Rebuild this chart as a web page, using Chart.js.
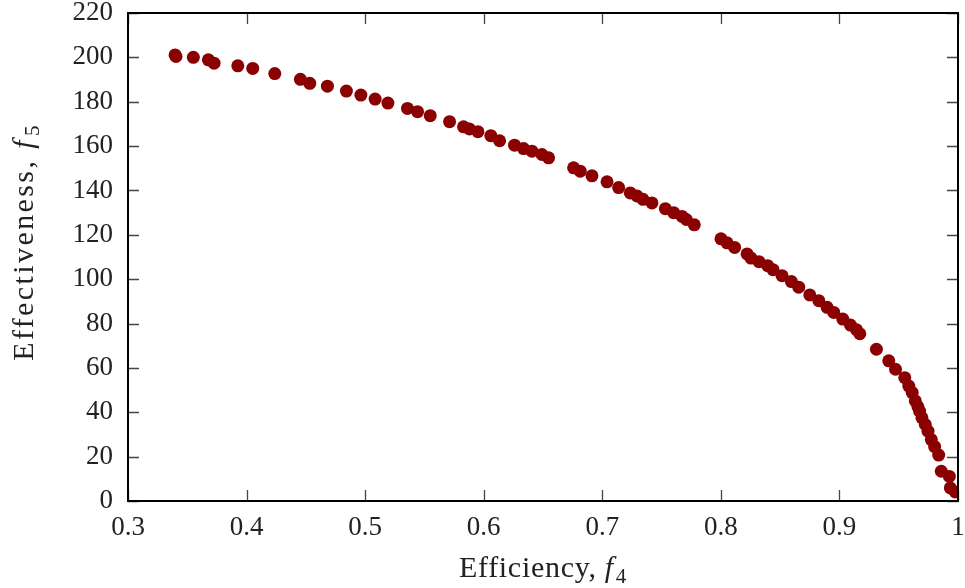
<!DOCTYPE html>
<html>
<head>
<meta charset="utf-8">
<script src="https://cdn.jsdelivr.net/npm/chart.js@4"></script>
<style>
  html, body { margin: 0; padding: 0; background: #fff; }
  #wrap { width: 965px; height: 588px; }
</style>
</head>
<body>
<div id="wrap"><canvas id="plot" width="965" height="588"></canvas></div>
<script>
  // Pareto front: efficiency f4 vs effectiveness f5
  const efficiency = [
    0.3397, 0.3405, 0.3551, 0.3678, 0.3726, 0.3926, 0.4052, 0.4238, 0.4454, 0.4533,
    0.4682, 0.4842, 0.4964, 0.5084, 0.5192, 0.5357, 0.5442, 0.5549, 0.5712, 0.5830,
    0.5880, 0.5951, 0.6060, 0.6134, 0.6260, 0.6336, 0.6407, 0.6491, 0.6547, 0.6758,
    0.6814, 0.6913, 0.7040, 0.7138, 0.7236, 0.7293, 0.7343, 0.7419, 0.7532, 0.7602,
    0.7673, 0.7709, 0.7776, 0.8001, 0.8052, 0.8116, 0.8221, 0.8254, 0.8322, 0.8395,
    0.8440, 0.8516, 0.8595, 0.8657, 0.8750, 0.8826, 0.8896, 0.8952, 0.9028, 0.9093,
    0.9144, 0.9172, 0.9312, 0.9416, 0.9473, 0.9551, 0.9585, 0.9614, 0.9640, 0.9662,
    0.9676, 0.9696, 0.9724, 0.9747, 0.9775, 0.9803, 0.9837, 0.9859, 0.9927, 0.9935,
    0.9977
  ];
  const effectiveness = [
    201.1, 200.4, 200.0, 198.9, 197.4, 196.2, 195.0, 192.7, 190.1, 188.3,
    187.0, 184.8, 183.0, 181.2, 179.4, 177.0, 175.5, 173.7, 171.0, 168.7,
    167.7, 166.5, 164.7, 162.4, 160.4, 158.9, 157.7, 156.2, 154.7, 150.2,
    148.7, 146.6, 143.9, 141.3, 138.9, 137.5, 136.0, 134.4, 131.8, 130.0,
    128.3, 126.9, 124.5, 118.2, 116.4, 114.3, 111.4, 109.5, 107.9, 106.1,
    104.3, 101.6, 98.9, 96.4, 92.9, 90.3, 87.3, 85.0, 82.0, 79.3,
    77.2, 75.4, 68.4, 63.2, 59.4, 55.6, 51.8, 48.9, 45.1, 42.5,
    40.5, 37.5, 34.5, 31.5, 27.7, 24.5, 20.7, 13.4, 11.1, 5.9,
    4.1
  ];

  const xTicks = [0.3, 0.4, 0.5, 0.6, 0.7, 0.8, 0.9, 1.0];
  const yTicks = [0, 20, 40, 60, 80, 100, 120, 140, 160, 180, 200, 220];

  const SERIF = '"Liberation Serif", "DejaVu Serif", serif';
  const TICK_LEN = 11;

  // frame + inward mirrored tick marks + axis titles with subscripts
  const framePlugin = {
    id: 'frame',
    afterDraw(chart) {
      const { ctx, chartArea: a, scales } = chart;
      ctx.save();

      ctx.strokeStyle = '#444';
      ctx.lineWidth = 1.3;
      ctx.beginPath();
      xTicks.forEach((v) => {
        const px = Math.round(scales.x.getPixelForValue(v)) + 0.5;
        ctx.moveTo(px, a.bottom); ctx.lineTo(px, a.bottom - TICK_LEN);
        ctx.moveTo(px, a.top); ctx.lineTo(px, a.top + TICK_LEN);
      });
      yTicks.forEach((v) => {
        const py = Math.round(scales.y.getPixelForValue(v)) + 0.5;
        ctx.moveTo(a.left, py); ctx.lineTo(a.left + TICK_LEN, py);
        ctx.moveTo(a.right, py); ctx.lineTo(a.right - TICK_LEN, py);
      });
      ctx.stroke();

      ctx.strokeStyle = '#000';
      ctx.lineWidth = 2;
      ctx.strokeRect(a.left, a.top, a.right - a.left, a.bottom - a.top);

      ctx.fillStyle = '#222';
      ctx.textBaseline = 'alphabetic';

      function label(text, sym, sub, cx, cy, spacing) {
        ctx.letterSpacing = spacing + 'px';
        const main = '30px ' + SERIF;
        const ital = 'italic 30px ' + SERIF;
        const small = '21px ' + SERIF;
        ctx.font = main; const w1 = ctx.measureText(text).width;
        ctx.font = ital; const w2 = ctx.measureText(sym).width;
        ctx.font = small; const w3 = ctx.measureText(sub).width;
        let x = cx - (w1 + w2 + w3 + 2) / 2;
        ctx.font = main; ctx.fillText(text, x, cy); x += w1;
        ctx.font = ital; ctx.fillText(sym, x, cy); x += w2 + 2;
        ctx.font = small; ctx.fillText(sub, x, cy + 6);
        ctx.letterSpacing = '0px';
      }

      label('Efficiency, ', 'f', '4', (a.left + a.right) / 2, 577, 0.7);

      ctx.translate(33, 242);
      ctx.rotate(-Math.PI / 2);
      label('Effectiveness, ', 'f', '5', 0, 0, 2.4);
      ctx.restore();
    }
  };

  const points = efficiency.map((x, i) => ({ x, y: effectiveness[i] }));

  new Chart(document.getElementById('plot'), {
    type: 'scatter',
    data: {
      datasets: [{
        data: points,
        backgroundColor: '#8b0000',
        borderColor: '#8b0000',
        borderWidth: 0,
        pointRadius: 6.5,
        pointHoverRadius: 6.5
      }]
    },
    options: {
      responsive: false,
      animation: false,
      layout: { padding: { top: 13, right: 7, left: 0, bottom: 0 } },
      plugins: { legend: { display: false }, tooltip: { enabled: false } },
      scales: {
        x: {
          type: 'linear',
          min: 0.3,
          max: 1.0,
          afterBuildTicks: (s) => { s.ticks = xTicks.map((v) => ({ value: v })); },
          afterFit: (s) => {
            s.height = 87;
            s.paddingLeft = 0; s.paddingRight = 0;
          },
          grid: { display: false, drawTicks: false },
          border: { display: false },
          ticks: {
            padding: 11,
            color: '#222',
            font: { family: SERIF, size: 27 },
            callback: (v) => (v === 1 ? '1' : v.toFixed(1))
          }
        },
        y: {
          type: 'linear',
          min: 0,
          max: 220,
          afterBuildTicks: (s) => { s.ticks = yTicks.map((v) => ({ value: v })); },
          afterFit: (s) => {
            s.width = 128;
            s.paddingTop = 0; s.paddingBottom = 0;
          },
          grid: { display: false, drawTicks: false },
          border: { display: false },
          ticks: {
            padding: 15,
            color: '#222',
            font: { family: SERIF, size: 27 }
          }
        }
      }
    },
    plugins: [framePlugin]
  });
</script>
</body>
</html>
